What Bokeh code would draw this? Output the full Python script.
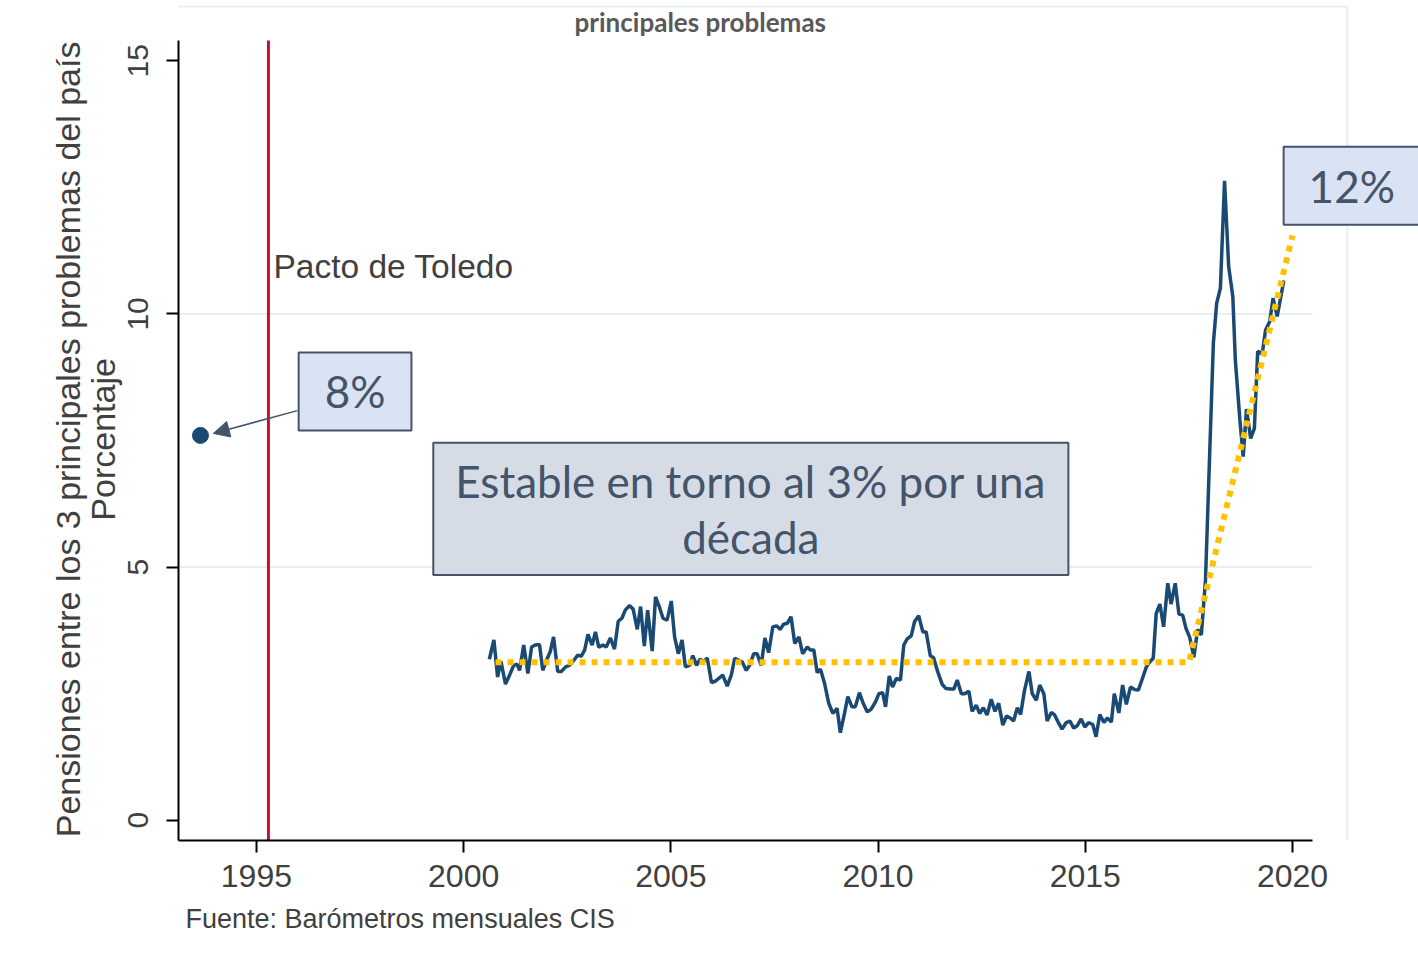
import math
from bokeh.plotting import figure
from bokeh.models import Range1d, Label, Arrow, NormalHead, Title
from bokeh.embed import file_html
from bokeh.resources import INLINE

# ---------------- data ----------------
years = [
    2000.62, 2000.73, 2000.82, 2000.90, 2001.01, 2001.11, 2001.21, 2001.29, 2001.35, 2001.45,
    2001.55, 2001.64, 2001.73, 2001.83, 2001.91, 2002.00, 2002.09, 2002.17, 2002.27, 2002.36,
    2002.46, 2002.55, 2002.66, 2002.75, 2002.84, 2002.92, 2003.00, 2003.10, 2003.18, 2003.26,
    2003.36, 2003.44, 2003.54, 2003.64, 2003.73, 2003.82, 2003.90, 2004.00, 2004.09, 2004.19,
    2004.27, 2004.36, 2004.44, 2004.55, 2004.63, 2004.72, 2004.81, 2004.91, 2005.01, 2005.09,
    2005.18, 2005.27, 2005.35, 2005.45, 2005.53, 2005.62, 2005.70, 2005.79, 2005.88, 2005.98,
    2006.08, 2006.17, 2006.25, 2006.36, 2006.46, 2006.54, 2006.64, 2006.72, 2006.82, 2006.90,
    2007.00, 2007.08, 2007.18, 2007.27, 2007.36, 2007.46, 2007.55, 2007.64, 2007.72, 2007.81,
    2007.90, 2007.99, 2008.09, 2008.18, 2008.29, 2008.37, 2008.45, 2008.53, 2008.61, 2008.71,
    2008.81, 2008.91, 2009.01, 2009.09, 2009.19, 2009.27, 2009.37, 2009.45, 2009.55, 2009.64,
    2009.74, 2009.83, 2009.94, 2010.02, 2010.11, 2010.18, 2010.27, 2010.35, 2010.44, 2010.54,
    2010.62, 2010.70, 2010.80, 2010.88, 2010.98, 2011.08, 2011.16, 2011.26, 2011.34, 2011.44,
    2011.55, 2011.64, 2011.75, 2011.83, 2011.91, 2012.01, 2012.09, 2012.19, 2012.27, 2012.37,
    2012.45, 2012.54, 2012.63, 2012.73, 2012.82, 2012.91, 2013.01, 2013.10, 2013.19, 2013.27,
    2013.36, 2013.44, 2013.53, 2013.64, 2013.72, 2013.82, 2013.90, 2014.00, 2014.08, 2014.18,
    2014.26, 2014.35, 2014.44, 2014.54, 2014.63, 2014.72, 2014.80, 2014.90, 2014.99, 2015.08,
    2015.18, 2015.26, 2015.35, 2015.45, 2015.53, 2015.63, 2015.70, 2015.81, 2015.90, 2015.99,
    2016.09, 2016.19, 2016.28, 2016.37, 2016.47, 2016.56, 2016.64, 2016.71, 2016.80, 2016.89,
    2016.99, 2017.07, 2017.17, 2017.26, 2017.35, 2017.43, 2017.52, 2017.62, 2017.71, 2017.80,
    2017.90, 2018.09, 2018.17, 2018.26, 2018.36, 2018.46, 2018.56, 2018.62, 2018.73, 2018.81,
    2018.89, 2018.99, 2019.08, 2019.16, 2019.27, 2019.35, 2019.45, 2019.53, 2019.63, 2019.79,
]
pct = [
    3.18, 3.56, 2.83, 3.14, 2.69, 2.87, 3.06, 3.08, 2.96, 3.46,
    2.90, 3.42, 3.46, 3.47, 2.96, 3.16, 3.33, 3.62, 2.94, 2.94,
    3.03, 3.06, 3.16, 3.26, 3.24, 3.36, 3.67, 3.46, 3.72, 3.42,
    3.46, 3.42, 3.60, 3.38, 3.93, 3.99, 4.15, 4.24, 4.17, 3.77,
    4.22, 3.44, 4.15, 3.34, 4.41, 4.22, 3.99, 3.95, 4.33, 3.62,
    3.29, 3.56, 3.03, 3.06, 3.25, 3.06, 3.18, 3.14, 3.20, 2.72,
    2.75, 2.81, 2.87, 2.65, 2.87, 3.20, 3.16, 3.13, 2.96, 3.06,
    3.29, 3.29, 3.06, 3.60, 3.31, 3.82, 3.84, 3.77, 3.87, 3.89,
    4.02, 3.49, 3.62, 3.29, 3.42, 3.36, 3.36, 2.92, 2.98, 2.70,
    2.31, 2.11, 2.21, 1.73, 2.11, 2.44, 2.24, 2.24, 2.52, 2.31,
    2.14, 2.19, 2.34, 2.50, 2.52, 2.24, 2.85, 2.63, 2.80, 2.77,
    3.46, 3.58, 3.64, 3.92, 4.04, 3.72, 3.72, 3.25, 3.21, 2.93,
    2.68, 2.60, 2.59, 2.59, 2.77, 2.50, 2.50, 2.55, 2.15, 2.27,
    2.11, 2.22, 2.08, 2.39, 2.15, 2.31, 1.88, 2.06, 2.02, 1.96,
    2.22, 2.09, 2.55, 2.94, 2.50, 2.37, 2.67, 2.50, 1.96, 2.13,
    2.08, 1.93, 1.80, 1.93, 1.96, 1.82, 1.86, 2.00, 1.84, 1.93,
    1.89, 1.65, 2.09, 1.93, 2.02, 1.94, 2.50, 2.12, 2.67, 2.29,
    2.63, 2.58, 2.57, 2.78, 3.02, 3.13, 3.20, 4.08, 4.27, 3.82,
    4.68, 4.27, 4.68, 4.07, 4.05, 3.79, 3.61, 3.22, 3.77, 3.66,
    4.74, 9.42, 10.21, 10.51, 12.63, 10.93, 10.34, 9.09, 7.91, 7.18,
    8.12, 7.54, 7.74, 9.26, 9.22, 9.68, 9.85, 10.31, 9.95, 10.66,
]
trend_x = [2000.77, 2017.50, 2020.0]
trend_y = [3.12, 3.12, 11.55]
pacto_year = 1995.29
point_year = [1993.65]
point_pct = [7.6]
x_ticks = [1995, 2000, 2005, 2010, 2015, 2020]
y_ticks = [0, 5, 10, 15]
grid_ticks = [5, 10]

# axis extents (the visible axes) and the wider drawing area
X_AX = (1993.12, 2020.48)
Y_AX = (-0.4, 15.4)

NAVY = "#1a4a73"
SLATE = "#44546a"
GOLD = "#ffc000"
TXT = "#404040"
FAINT = "#e8eef2"
NB = "\u00a0" * 4

p = figure(width=1418, height=973, output_backend="svg", toolbar_location=None,
           x_range=Range1d(X_AX[0], 2023.04), y_range=Range1d(Y_AX[0], 16.19),
           min_border_left=178, min_border_right=0, min_border_top=0,
           min_border_bottom=133)
p.outline_line_color = None
p.background_fill_color = "white"
p.border_fill_color = "white"

# axes
p.xaxis.ticker = x_ticks
p.yaxis.ticker = y_ticks
p.xaxis.bounds = X_AX
p.yaxis.bounds = Y_AX
for ax in (p.xaxis[0], p.yaxis[0]):
    ax.axis_line_color = "black"
    ax.axis_line_width = 2
    ax.major_tick_line_color = "black"
    ax.major_tick_line_width = 2
    ax.major_tick_out = 12
    ax.major_tick_in = 0
    ax.minor_tick_line_color = None
    ax.major_label_text_font = "Liberation Sans"
    ax.major_label_text_color = TXT
p.xaxis.major_label_text_font_size = "32px"
p.xaxis.major_label_standoff = 12
p.yaxis.major_label_text_font_size = "30px"
p.yaxis.major_label_orientation = "parallel"
p.yaxis.major_label_standoff = 18
p.yaxis.axis_label = ("Pensiones entre los 3 principales problemas del país" + NB
                      + "\nPorcentaje" + NB)
p.yaxis.axis_label_text_font = "Liberation Sans"
p.yaxis.axis_label_text_font_size = "34px"
p.yaxis.axis_label_text_font_style = "normal"
p.yaxis.axis_label_text_color = TXT
p.yaxis.axis_label_standoff = 4
p.yaxis.axis_label_text_line_height = 0.92

p.xgrid.visible = False
p.ygrid.visible = False

# faint graph-region border and grid lines
p.segment(x0=[X_AX[0]], y0=[16.07], x1=[2021.32], y1=[16.07], line_color=FAINT, line_width=2)
p.segment(x0=[2021.32], y0=[Y_AX[0]], x1=[2021.32], y1=[16.07], line_color=FAINT, line_width=2)
p.segment(x0=[X_AX[0]] * len(grid_ticks), y0=grid_ticks,
          x1=[X_AX[1]] * len(grid_ticks), y1=grid_ticks,
          line_color="#e6eef2", line_width=2)

# Pacto de Toledo
p.segment(x0=[pacto_year], y0=[Y_AX[0]], x1=[pacto_year], y1=[Y_AX[1]],
          line_color="#c8102e", line_width=3)
p.add_layout(Label(x=1995.41, y=10.94, text="Pacto de Toledo", text_baseline="middle",
                   text_font="Liberation Sans", text_font_size="33.5px", text_color=TXT))

# series
p.line(years, pct, line_color=NAVY, line_width=3.5)
p.line(trend_x, trend_y, line_color=GOLD, line_width=6, line_dash="6 6")
p.scatter(point_year, point_pct, size=16, color=NAVY)

# arrow
p.add_layout(Arrow(end=NormalHead(size=16, fill_color=SLATE, line_color=SLATE),
                   x_start=1995.99, y_start=8.09, x_end=1993.96, y_end=7.64,
                   line_color=SLATE, line_width=1.5))

# boxes
def box(x, y, text, fill, size, pad, lh=1.2):
    p.add_layout(Label(x=x, y=y, text=text, text_align="center", text_baseline="middle",
                       text_font="Lato", text_font_size=size, text_color=SLATE,
                       text_line_height=lh,
                       background_fill_color=fill, border_line_color=SLATE,
                       border_line_width=2, padding=pad))

box(1997.38, 8.47, "8%", "#dae3f3", "44px", (26, 13))
box(2021.43, 12.53, "12%", "#dae3f3", "44px", (25, 13))
box(2006.93, 6.15, "Estable en torno al 3% por una\ndécada", "#d6dce5", "44px", (22, 12), 1.08)

# title (cut at the top in the source image) and source note
p.add_layout(Label(x=2005.71, y=15.76, text="principales problemas", text_align="center",
                   text_baseline="alphabetic", text_font="Lato", text_font_style="bold",
                   text_font_size="26px", text_color="#595959"))
p.add_layout(Title(text="Fuente: Barómetros mensuales CIS", align="left", offset=7,
                   standoff=24, text_font="Liberation Sans", text_font_size="27px",
                   text_font_style="normal", text_color=TXT), "below")

open("out.html", "w").write(file_html(p, INLINE))
